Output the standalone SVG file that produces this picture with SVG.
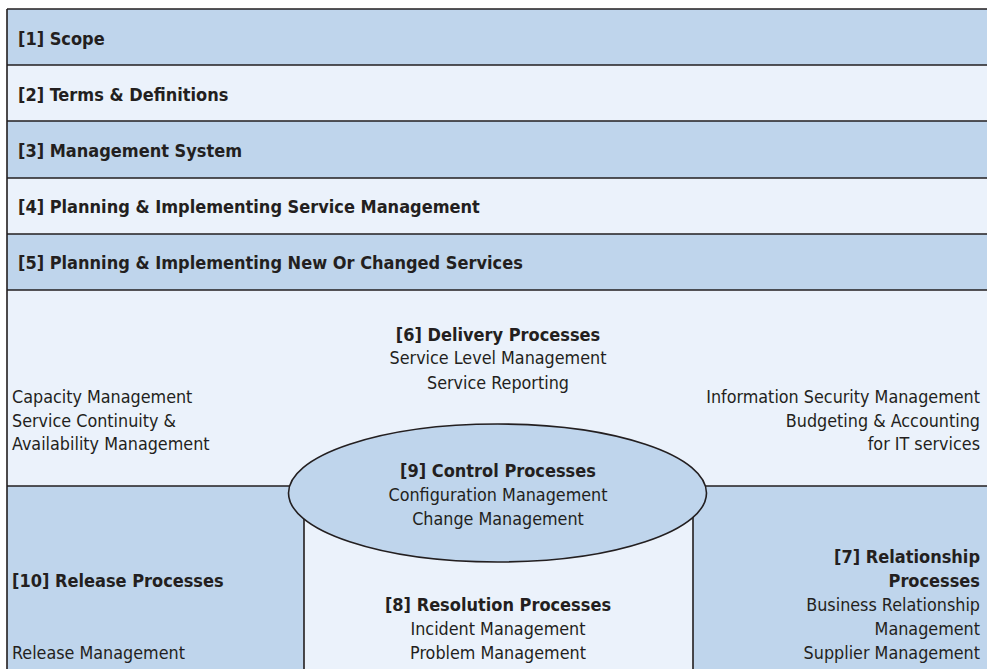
<svg xmlns="http://www.w3.org/2000/svg" width="987" height="669" viewBox="0 0 987 669">
<style>
.b{fill:#bfd5ec}
.l{fill:#ebf2fb}
.s{stroke:#231f20;stroke-width:1.6;fill:none}
text{font-family:"Liberation Sans Narrow","DejaVu Sans Condensed","Liberation Sans",sans-serif;fill:#231f20}
.h{font-weight:bold;font-size:18px}
.t{font-size:17.8px}
.m{text-anchor:middle}
.r{text-anchor:end}
</style>
<rect x="0" y="0" width="987" height="669" fill="#ffffff"/>
<g id="n1"><rect class="b" x="7" y="9" width="980" height="56"/><text class="h" x="18" y="45">[1] Scope</text></g>
<g id="n2"><rect class="l" x="7" y="65" width="980" height="56"/><text class="h" x="18" y="101">[2] Terms &amp; Definitions</text></g>
<g id="n3"><rect class="b" x="7" y="121" width="980" height="57"/><text class="h" x="18" y="157">[3] Management System</text></g>
<g id="n4"><rect class="l" x="7" y="178" width="980" height="56"/><text class="h" x="18" y="213">[4] Planning &amp; Implementing Service Management</text></g>
<g id="n5"><rect class="b" x="7" y="234" width="980" height="56"/><text class="h" x="18" y="269">[5] Planning &amp; Implementing New Or Changed Services</text></g>
<g id="n6"><rect class="l" x="7" y="290" width="980" height="196"/>
<text class="h m" x="498" y="341">[6] Delivery Processes</text>
<text class="t m" x="498" y="364">Service Level Management</text>
<text class="t m" x="498" y="389">Service Reporting</text>
<text class="t" x="12" y="403">Capacity Management</text>
<text class="t" x="12" y="427">Service Continuity &amp;</text>
<text class="t" x="12" y="450">Availability Management</text>
<text class="t r" x="980" y="403">Information Security Management</text>
<text class="t r" x="980" y="427">Budgeting &amp; Accounting</text>
<text class="t r" x="980" y="450">for IT services</text>
</g>
<g id="n10"><rect class="b" x="7" y="486" width="297" height="183"/>
<text class="h" x="12" y="587">[10] Release Processes</text>
<text class="t" x="12" y="659">Release Management</text></g>
<g id="n7"><rect class="b" x="693" y="486" width="294" height="183"/>
<text class="h r" x="980" y="563">[7] Relationship</text>
<text class="h r" x="980" y="587">Processes</text>
<text class="t r" x="980" y="611">Business Relationship</text>
<text class="t r" x="980" y="635">Management</text>
<text class="t r" x="980" y="659">Supplier Management</text></g>
<g id="n8"><rect class="l" x="304" y="493" width="389" height="176"/>
<path class="s" d="M304 493V669M693 493V669"/>
<text class="h m" x="498" y="611">[8] Resolution Processes</text>
<text class="t m" x="498" y="635">Incident Management</text>
<text class="t m" x="498" y="659">Problem Management</text></g>
<g id="frame">
<path class="s" d="M7 9H987M7 65H987M7 121H987M7 178H987M7 234H987M7 290H987M7 9V669M7 486H292M703 486H987"/>
</g>
<g id="n9"><ellipse class="b" cx="497.5" cy="493" rx="209" ry="69"/><ellipse class="s" cx="497.5" cy="493" rx="209" ry="69"/>
<text class="h m" x="498" y="477">[9] Control Processes</text>
<text class="t m" x="498" y="501">Configuration Management</text>
<text class="t m" x="498" y="525">Change Management</text></g>
<g id="connectors"></g>
</svg>
